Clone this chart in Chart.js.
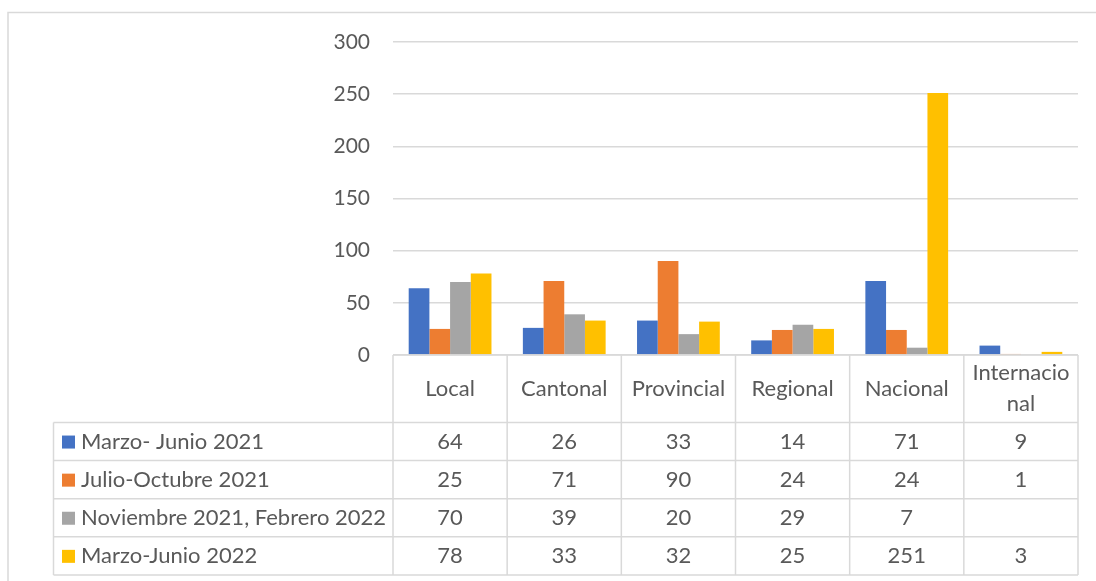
<!DOCTYPE html>
<html><head><meta charset="utf-8">
<script src="https://cdn.jsdelivr.net/npm/chart.js@4/dist/chart.umd.min.js"></script>
<style>html,body{margin:0;padding:0;background:#fff}canvas{display:block}</style>
</head><body>
<canvas id="c" width="1096" height="581"></canvas>
<script>
const categories = ['Local','Cantonal','Provincial','Regional','Nacional','Internacional'];
const seriesNames = ['Marzo- Junio 2021','Julio-Octubre 2021','Noviembre 2021, Febrero 2022','Marzo-Junio 2022'];
const marzoJunio2021 = [64,26,33,14,71,9];
const julioOctubre2021 = [25,71,90,24,24,1];
const noviembre2021Febrero2022 = [70,39,20,29,7,null];
const marzoJunio2022 = [78,33,32,25,251,3];
const yTicks = [0,50,100,150,200,250,300];
const colors = ['#4472C4','#ED7D31','#A5A5A5','#FFC000'];

const FONT = 'Lato, "Open Sans", sans-serif';
const TXT = '#595959';
const LINE = '#d9d9d9';
const FS = 22;

const tablePlugin = {
  id:'dataTable',
  beforeDraw(chart){
    const ctx = chart.ctx;
    ctx.save();
    ctx.fillStyle='#fff';
    ctx.fillRect(0,0,chart.width,chart.height);
    ctx.strokeStyle=LINE; ctx.lineWidth=1.5;
    ctx.beginPath();
    ctx.moveTo(8,chart.height+2); ctx.lineTo(8,12.5); ctx.lineTo(chart.width+2,12.5);
    ctx.stroke();
    ctx.restore();
  },
  afterDraw(chart){
    const ctx = chart.ctx, x = chart.scales.x, area = chart.chartArea;
    const n = categories.length;
    const left = area.left, right = area.right, top = area.bottom;
    const headerBottom = 422.5, rowH = 38.1, legendLeft = 53.5;
    const nRows = chart.data.datasets.length;
    const bottom = headerBottom + rowH*nRows;
    const step = (right-left)/n;
    ctx.save();
    ctx.strokeStyle=LINE; ctx.lineWidth=1.5;
    ctx.beginPath();
    ctx.moveTo(left,top); ctx.lineTo(right,top);
    for(let i=0;i<=n;i++){
      const xx = left + step*i;
      ctx.moveTo(xx,top); ctx.lineTo(xx,bottom);
    }
    ctx.moveTo(legendLeft,headerBottom); ctx.lineTo(legendLeft,bottom);
    for(let r=0;r<=nRows;r++){
      const yy = headerBottom + rowH*r;
      ctx.moveTo(legendLeft,yy); ctx.lineTo(right,yy);
    }
    ctx.stroke();

    ctx.fillStyle=TXT;
    ctx.font=FS+'px '+FONT;
    ctx.textAlign='center'; ctx.textBaseline='middle';
    const hc = (top+headerBottom)/2;
    categories.forEach((c,i)=>{
      const cx = x.getPixelForValue(i);
      const lines=[]; let cur='';
      for(const ch of c){
        if(ctx.measureText(cur+ch).width > step-8 && cur){ lines.push(cur); cur=ch; }
        else cur+=ch;
      }
      lines.push(cur);
      const lh=31;
      lines.forEach((l,k)=>{
        ctx.fillText(l, cx, hc + (k-(lines.length-1)/2)*lh);
      });
    });
    chart.data.datasets.forEach((ds,r)=>{
      const cy = headerBottom + rowH*r + rowH/2;
      ctx.fillStyle=ds.backgroundColor;
      ctx.fillRect(62, cy-6, 13, 13);
      ctx.fillStyle=TXT;
      ctx.textAlign='left';
      ctx.fillText(ds.label, 81, cy);
      ctx.textAlign='center';
      ds.data.forEach((v,i)=>{
        if(v===null||v===undefined) return;
        ctx.fillText(String(v), x.getPixelForValue(i), cy);
      });
    });
    ctx.restore();
  }
};

const seriesData=[marzoJunio2021,julioOctubre2021,noviembre2021Febrero2022,marzoJunio2022];
new Chart(document.getElementById('c'),{
  type:'bar',
  data:{
    labels:categories,
    datasets:seriesNames.map((name,i)=>({
      label:name, data:seriesData[i], backgroundColor:colors[i],
      categoryPercentage:0.725, barPercentage:1, borderWidth:0
    }))
  },
  options:{
    responsive:false, animation:false,
    layout:{padding:{left:0,top:42,right:18,bottom:226}},
    plugins:{legend:{display:false},tooltip:{enabled:false}},
    scales:{
      x:{display:false, offset:true},
      y:{
        min:0,max:300,
        afterFit(s){ s.width = 393; },
        afterBuildTicks(s){ s.ticks = yTicks.map(v=>({value:v})); },
        border:{display:false},
        grid:{color:LINE, lineWidth:1.5, drawTicks:false},
        ticks:{padding:23, color:TXT, font:{family:FONT,size:21}}
      }
    }
  },
  plugins:[tablePlugin]
});
</script>
</body></html>
